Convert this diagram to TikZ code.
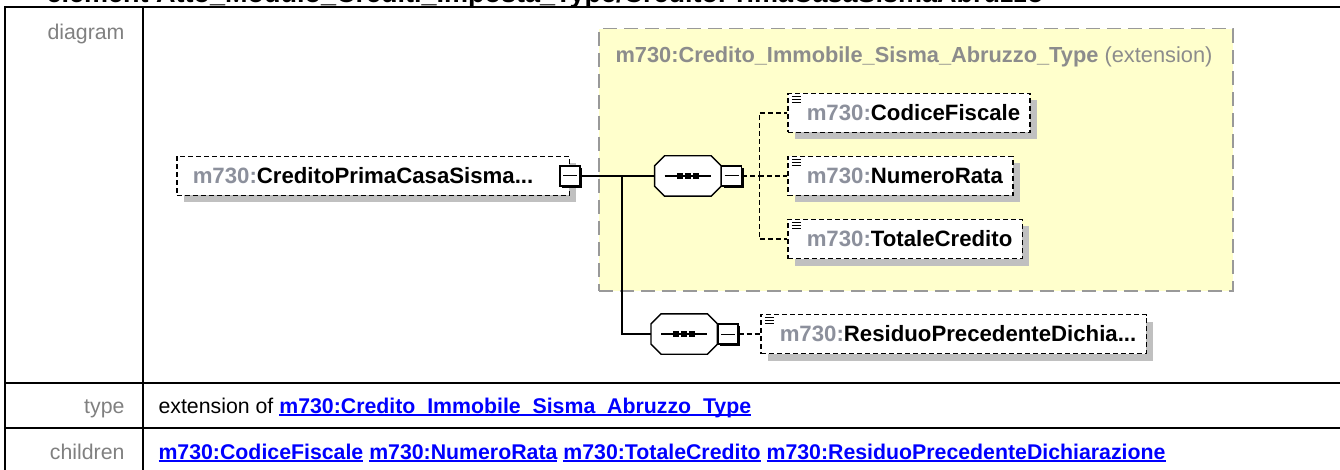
\documentclass[tikz,border=0pt]{standalone}
\usepackage{fontspec}
\setmainfont{Liberation Sans}
\usetikzlibrary{positioning,shadows}
\definecolor{ExtYellow}{HTML}{FFFFCC}
\definecolor{ExtGray}{HTML}{999999}
\definecolor{TitleGray}{HTML}{8C8C8C}
\definecolor{PrefixGray}{HTML}{8C909C}
\definecolor{LabelGray}{HTML}{808080}
\definecolor{ShadowGray}{HTML}{C0C0C0}
\definecolor{LinkBlue}{HTML}{0000FF}
\newcommand{\pfx}{{\color{PrefixGray}m730:}}
\newcommand{\lnk}[1]{\setbox0\hbox{\bfseries #1}\rlap{\rule[-2.6pt]{\wd0}{1.3pt}}\box0\relax}
% octagon outline of a sequence node, with its shadow and the dotted bar
\newcommand{\octpath}[2]{([shift={(10,0)}]#1.north west) -- ([shift={(-10,0)}]#1.north east)
  -- ([shift={(0,10)}]#1.north east) -- ([shift={(0,-10)}]#1.south east)
  -- ([shift={(-10,0)}]#1.south east) -- ([shift={(10,0)}]#1.south west)
  -- ([shift={(0,-10)}]#1.south west) -- ([shift={(0,10)}]#1.north west) -- cycle}
\newcommand{\seqshape}[1]{%
  \fill[ShadowGray,shift={(6,6)}] \octpath{#1}{};
  \filldraw[fill=white,draw=black,line width=1.4pt] \octpath{#1}{};
  \draw[line width=1.4pt] ([xshift=10pt]#1.west) -- ([xshift=-10pt]#1.east);
  \foreach \d in {-11,-3,5}
    \fill ([shift={(\d,-3)}]#1.center) rectangle ++(6,6);}

\begin{document}
\begin{tikzpicture}[x=1pt,y=-1pt,
  every node/.style={font=\fontsize{21.3}{26}\selectfont},
  rule/.style={line width=2pt},
  rowlabel/.style={anchor=base east,text=LabelGray},
  elembox/.style={draw=black,dash pattern=on 5pt off 3pt,line width=1.5pt,fill=white,
    minimum height=39pt,inner xsep=16pt,inner ysep=0pt,
    font=\fontsize{22.2}{26}\selectfont\bfseries,
    drop shadow={shadow xshift=7pt,shadow yshift=-7pt,fill=ShadowGray,opacity=1}},
  leafbox/.style={elembox,inner xsep=10pt,execute at begin node={\hspace*{9pt}},
    path picture={\foreach \k in {-3pt,-6pt,-9pt}
      \draw[line width=1.2pt,solid] ([xshift=4pt,yshift=\k]path picture bounding box.north west) -- ++(9,0);}},
  seqbox/.style={minimum width=66pt,minimum height=40pt,inner sep=0pt},
  expander/.style={draw=black,line width=1.2pt,fill=white,minimum size=20pt,inner sep=0pt,
    drop shadow={shadow xshift=2pt,shadow yshift=-2pt,fill=black,opacity=1},
    path picture={\draw[line width=1pt] ([xshift=3pt]path picture bounding box.west) -- ([xshift=-3pt]path picture bounding box.east);}},
  extbox/.style={draw=ExtGray,fill=ExtYellow,line width=1.5pt,dash pattern=on 14pt off 7pt,inner sep=0pt},
  conn/.style={line width=1.4pt},
  dconn/.style={line width=1.4pt,dash pattern=on 5pt off 3pt}]
  \useasboundingbox (0,0) rectangle (1340,470);
  \clip (0,0) rectangle (1340,470);

  % table
  \node[anchor=base west,font=\fontsize{27}{32}\selectfont\bfseries] (heading) at (43,2.5)
    {element Atto\_Modulo\_Crediti\_Imposta\_Type/CreditoPrimaCasaSismaAbruzzo};
  \draw[rule] (5,480) -- (5,7) -- (1350,7);
  \draw[rule] (143,7) -- (143,480);
  \draw[rule] (5,383) -- (1350,383);
  \draw[rule] (5,428) -- (1350,428);
  \draw[rule] (5,474) -- (1350,474);
  \node[rowlabel] (lbdiag) at (128,40) {diagram};
  \node[rowlabel] (lbtype) at (128,413) {type};
  \node[rowlabel] (lbchild) at (128,459) {children};
  \node[anchor=base west] (typeval) at (155,413)
    {extension of \textcolor{LinkBlue}{\lnk{m730:Credito\_Immobile\_Sisma\_Abruzzo\_Type}}};
  \node[anchor=base west] (childval) at (155,459)
    {\textcolor{LinkBlue}{\lnk{m730:CodiceFiscale} \lnk{m730:NumeroRata} \lnk{m730:TotaleCredito} \lnk{m730:ResiduoPrecedenteDichiarazione}}};

  % diagram
  \node[extbox,anchor=north west,minimum width=634pt,minimum height=262pt] (ext) at (598,28) {};
  \node[anchor=base west,text=TitleGray,font=\fontsize{21.8}{26}\selectfont] (exttitle) at (612,63)
    {\textbf{m730:Credito\_Immobile\_Sisma\_Abruzzo\_Type} (extension)};

  \node[elembox,anchor=west] (root) at (176,176) {\pfx CreditoPrimaCasaSisma...\hspace*{20pt}};
  \node[expander] (exp0) at (root.east) {};
  \node[seqbox,right=74pt of exp0] (seq1) {};
  \seqshape{seq1}
  \node[expander,anchor=west] (exp1) at (seq1.east) {};
  \node[seqbox,anchor=west] (seq2) at (651,334) {};
  \seqshape{seq2}
  \node[expander,anchor=west] (exp2) at (seq2.east) {};
  \coordinate (split) at (622,176);
  \coordinate[right=17pt of exp1] (fork1);

  \node[leafbox,anchor=west] (cf) at (787,113) {\pfx CodiceFiscale};
  \node[leafbox,anchor=west] (nr) at (787,176) {\pfx NumeroRata};
  \node[leafbox,anchor=west] (tc) at (787,239) {\pfx TotaleCredito};
  \node[leafbox,anchor=west] (rpd) at (760,334) {\pfx ResiduoPrecedenteDichia...};

  \draw[conn] (exp0) -- (seq1);
  \draw[conn] (split) |- (seq2.west);
  \draw[dconn] (exp1) -- (fork1);
  \draw[dconn] (fork1) |- (cf.west);
  \draw[dconn] (fork1) -- (nr.west);
  \draw[dconn] (fork1) |- (tc.west);
  \draw[dconn] (exp2) -- (rpd);
\end{tikzpicture}
\end{document}
